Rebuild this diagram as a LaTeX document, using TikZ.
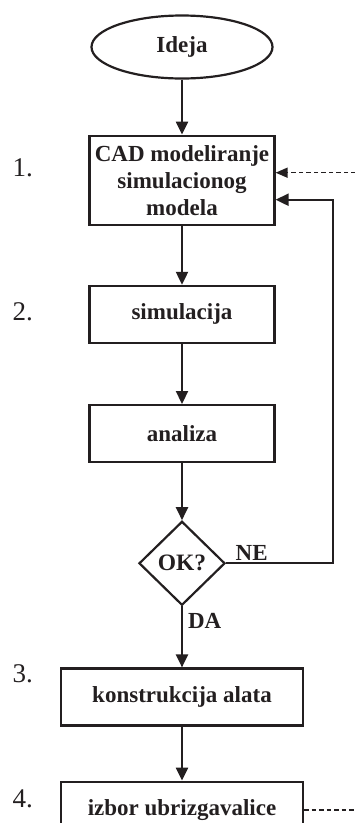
\documentclass[tikz,border=0pt]{standalone}
\usepackage{fontspec}
\setmainfont{Liberation Serif}
\usepackage{xcolor}
\definecolor{cLine}{HTML}{231F20}
\usepackage{tikz}
\usetikzlibrary{positioning,arrows.meta,shapes.geometric,calc}
\tikzset{
  node-box/.style={draw=cLine,line width=2.2pt,minimum width=185pt,
    minimum height=57pt,inner sep=2pt,align=center,text=cLine,
    font=\bfseries\fontsize{23}{27}\selectfont},
  node-wide/.style={minimum width=242pt},
  node-start/.style={draw=cLine,line width=2.2pt,ellipse,minimum width=181pt,
    minimum height=63pt,inner sep=0pt,text=cLine,
    font=\bfseries\fontsize{23}{27}\selectfont},
  node-check/.style={draw=cLine,line width=2.2pt,diamond,minimum width=86pt,
    minimum height=84pt,inner sep=0pt,text=cLine,
    font=\bfseries\fontsize{23.5}{27}\selectfont},
  node-step/.style={anchor=east,inner sep=0pt,text=cLine,
    font=\fontsize{27}{30}\selectfont},
  node-tag/.style={inner sep=0pt,text=cLine,
    font=\bfseries\fontsize{23}{27}\selectfont},
  arrow/.style={-{Triangle[length=13pt,width=12pt]},line width=2.2pt,draw=cLine},
  arrow-ext/.style={line width=1.5pt,draw=cLine,dash pattern=on 4.5pt off 3pt},
}

\begin{document}
\begin{tikzpicture}[x=1pt,y=1pt]
  \useasboundingbox (0,0) rectangle (354,-823);
  % main chain
  \node[node-start] (idea) at (182,-47) {Ideja};
  \node[node-box,minimum height=89pt,below=55pt of idea] (cad) {CAD modeliranje\\simulacionog\\modela};
  \node[node-box,below=59pt of cad] (sim) {simulacija};
  \node[node-box,below=60pt of sim] (ana) {analiza};
  \node[node-check,below=57pt of ana] (ok) {OK?};
  \node[node-box,node-wide,below=61pt of ok] (tool) {konstrukcija alata};
  \node[node-box,node-wide,below=54pt of tool] (press) {izbor ubrizgavalice};
  % step numbers
  \node[node-step] (n1) at (33,-168) {1.};
  \node[node-step] (n2) at (33,-312) {2.};
  \node[node-step] (n3) at (33,-674) {3.};
  \node[node-step] (n4) at (33,-799) {4.};
  % loop back and outside links
  \coordinate (loop) at ($(cad.east)+(57,-19.5)$);
  \coordinate (ext-in) at ($(cad.east)+(80,7.5)$);
  \coordinate (ext-out) at ($(press.east)+(60,0)$);
  \draw[arrow] (idea) -- (cad);
  \draw[arrow] (cad) -- (sim);
  \draw[arrow] (sim) -- (ana);
  \draw[arrow] (ana) -- (ok);
  \draw[arrow] (ok) -- node[node-tag,pos=0.24,anchor=west,xshift=5pt] {DA} (tool);
  \draw[arrow] (tool) -- (press);
  \draw[arrow] (ok.east) -| node[node-tag,pos=0.12,above=2pt] {NE} (loop) -- (loop -| cad.east);
  \draw[arrow-ext,-{Triangle[length=12pt,width=10pt]}] (ext-in) -- (ext-in -| cad.east);
  \draw[arrow-ext] (press.east) -- (ext-out);
\end{tikzpicture}
\end{document}
